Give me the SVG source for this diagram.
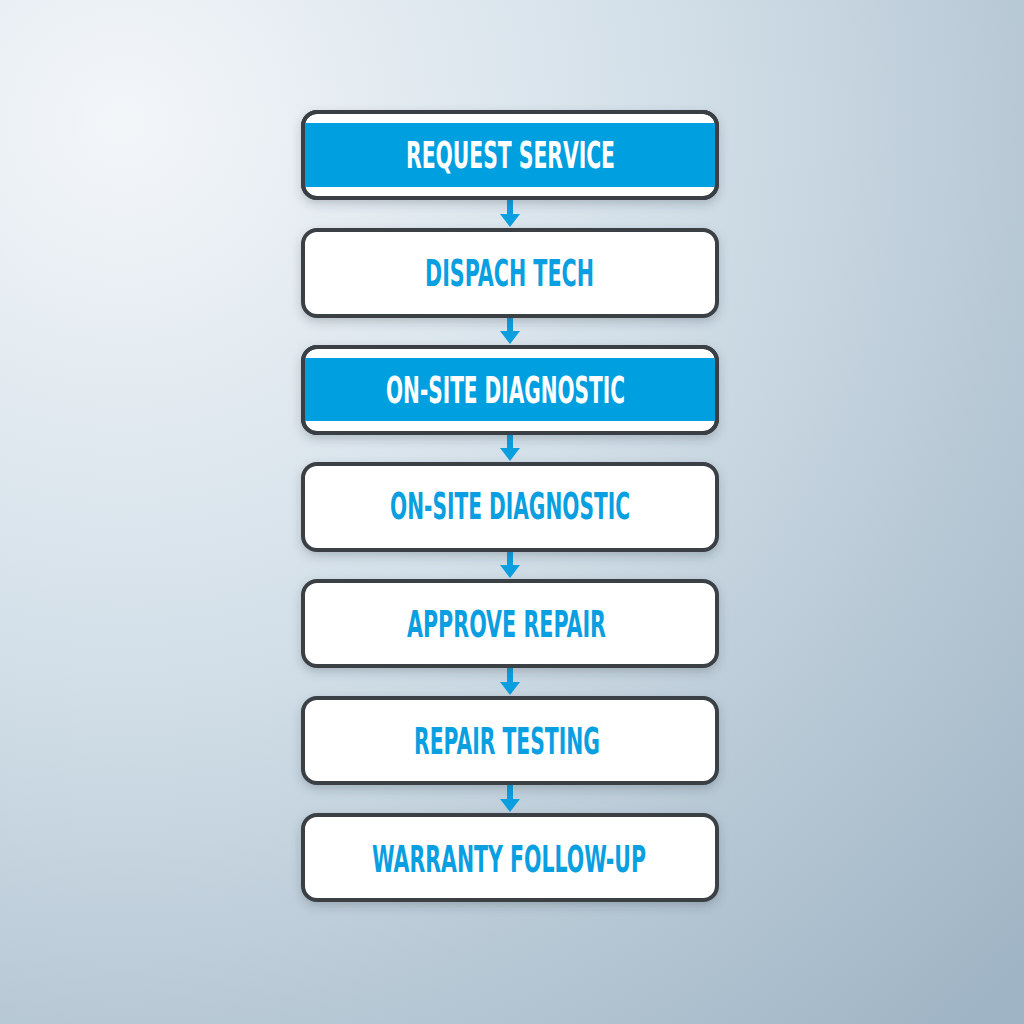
<svg xmlns="http://www.w3.org/2000/svg" width="1024" height="1024" viewBox="0 0 1024 1024">
<defs>
<radialGradient id="bg" cx="0.12" cy="0.12" r="1.2">
<stop offset="0" stop-color="#f3f6f9"/>
<stop offset="0.45" stop-color="#d2dfe8"/>
<stop offset="1" stop-color="#9fb4c4"/>
</radialGradient>
<filter id="sh" x="-10%" y="-20%" width="120%" height="150%">
<feDropShadow dx="0" dy="4" stdDeviation="5" flood-color="#2a3a48" flood-opacity="0.25"/>
</filter>
<clipPath id="c1"><rect x="305" y="114" width="410" height="82" rx="12"/></clipPath>
<clipPath id="c3"><rect x="305" y="349" width="410" height="82" rx="12"/></clipPath>
<marker id="ah" viewBox="0 0 20 12" refX="10" refY="12" markerWidth="20" markerHeight="12" markerUnits="userSpaceOnUse" orient="auto-start-reverse">
<path d="M0,0 L20,0 L10,12 Z" fill="#0b9fe0"/>
</marker>
</defs>
<style>
.box{fill:#ffffff;stroke:#3a3f45;stroke-width:4;filter:url(#sh)}
.band{fill:#009fe0}
.lbl{font-family:"Liberation Sans Narrow","DejaVu Sans Condensed","Roboto Condensed","Liberation Sans",sans-serif;font-weight:bold;font-size:38px;text-anchor:middle}
.blue{fill:#0a9fe0}
.white{fill:#ffffff}
.arr{stroke:#0b9fe0;stroke-width:6;fill:none}
</style>
<rect width="1024" height="1024" fill="url(#bg)"/>
<g id="connectors">
<line class="arr" x1="510" y1="200" x2="510" y2="216"/><path d="M500,214 L520,214 L510,227 Z" fill="#0b9fe0"/>
<line class="arr" x1="510" y1="318" x2="510" y2="333"/><path d="M500,331 L520,331 L510,344 Z" fill="#0b9fe0"/>
<line class="arr" x1="510" y1="434" x2="510" y2="450"/><path d="M500,448 L520,448 L510,461 Z" fill="#0b9fe0"/>
<line class="arr" x1="510" y1="551" x2="510" y2="567"/><path d="M500,565 L520,565 L510,578 Z" fill="#0b9fe0"/>
<line class="arr" x1="510" y1="668" x2="510" y2="684"/><path d="M500,682 L520,682 L510,695 Z" fill="#0b9fe0"/>
<line class="arr" x1="510" y1="785" x2="510" y2="801"/><path d="M500,799 L520,799 L510,812 Z" fill="#0b9fe0"/>
</g>
<g id="n1">
<rect class="box" x="303" y="112" width="414" height="86" rx="14"/>
<rect class="band" x="305" y="123" width="410" height="64" clip-path="url(#c1)"/>
<rect x="303" y="112" width="414" height="86" rx="14" fill="none" stroke="#3a3f45" stroke-width="4"/>
<text class="lbl white" x="510.5" y="168" textLength="209" lengthAdjust="spacingAndGlyphs">REQUEST SERVICE</text>
</g>
<g id="n2">
<rect class="box" x="303" y="230" width="414" height="86" rx="14"/>
<text class="lbl blue" x="509.5" y="286" textLength="169" lengthAdjust="spacingAndGlyphs">DISPACH TECH</text>
</g>
<g id="n3">
<rect class="box" x="303" y="347" width="414" height="86" rx="14"/>
<rect class="band" x="305" y="358" width="410" height="63" clip-path="url(#c3)"/>
<rect x="303" y="347" width="414" height="86" rx="14" fill="none" stroke="#3a3f45" stroke-width="4"/>
<text class="lbl white" x="505.5" y="403" textLength="239" lengthAdjust="spacingAndGlyphs">ON-SITE DIAGNOSTIC</text>
</g>
<g id="n4">
<rect class="box" x="303" y="464" width="414" height="86" rx="14"/>
<text class="lbl blue" x="510" y="519" textLength="240" lengthAdjust="spacingAndGlyphs">ON-SITE DIAGNOSTIC</text>
</g>
<g id="n5">
<rect class="box" x="303" y="581" width="414" height="85" rx="14"/>
<text class="lbl blue" x="506.5" y="637" textLength="199" lengthAdjust="spacingAndGlyphs">APPROVE REPAIR</text>
</g>
<g id="n6">
<rect class="box" x="303" y="698" width="414" height="85" rx="14"/>
<text class="lbl blue" x="507" y="754" textLength="186" lengthAdjust="spacingAndGlyphs">REPAIR TESTING</text>
</g>
<g id="n7">
<rect class="box" x="303" y="815" width="414" height="85" rx="14"/>
<text class="lbl blue" x="509" y="872" textLength="274" lengthAdjust="spacingAndGlyphs">WARRANTY FOLLOW-UP</text>
</g>
</svg>
